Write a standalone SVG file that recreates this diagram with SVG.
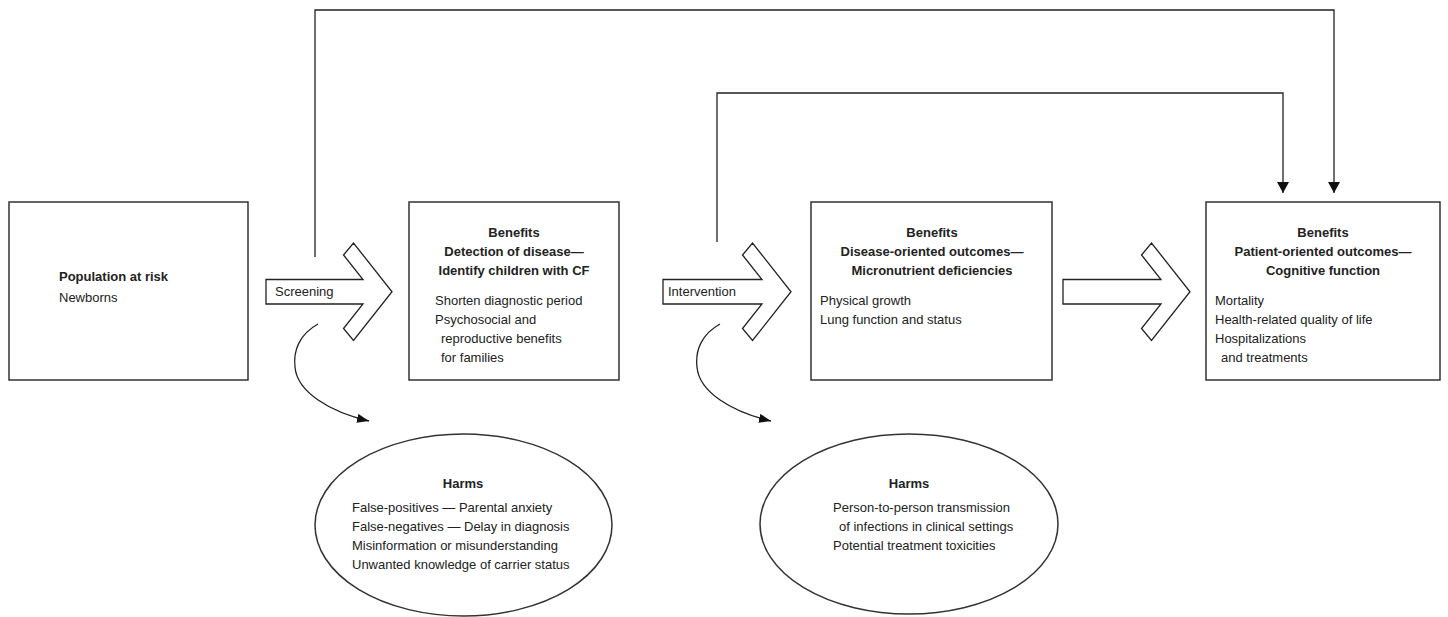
<svg xmlns="http://www.w3.org/2000/svg" width="1448" height="617" viewBox="0 0 1448 617">
<style>
.box{fill:#fff;stroke:#333;stroke-width:1.5}
.arr{fill:#fff;stroke:#222;stroke-width:1.3;stroke-linejoin:miter}
.t{font-family:"Liberation Sans",Arial,sans-serif;font-size:13px;fill:#222}
.b{font-weight:bold}
.c{text-anchor:middle}
.conn{fill:none;stroke:#222;stroke-width:1.3}
</style>
<defs>
<marker id="ah" viewBox="0 0 11 12" refX="11" refY="6" markerWidth="11" markerHeight="12" markerUnits="userSpaceOnUse" orient="auto">
<path d="M0,0 L11,6 L0,12 z" fill="#111"/>
</marker>
<marker id="ah2" viewBox="0 0 12 9" refX="12" refY="4.5" markerWidth="12" markerHeight="9" markerUnits="userSpaceOnUse" orient="auto">
<path d="M0,0 L12,4.5 L0,9 z" fill="#111"/>
</marker>
</defs>
<rect width="1448" height="617" fill="#fff"/>

<g id="connectors">
<path class="conn" d="M315,257 V10 H1334 V193" marker-end="url(#ah)"/>
<path class="conn" d="M717,242 V93 H1283 V193" marker-end="url(#ah)"/>
<path class="conn" d="M318,324 C300,334 293,350 295,367 C297,392 330,412 369,421" marker-end="url(#ah2)"/>
<path class="conn" d="M720,324 C702,334 695,350 697,367 C699,392 732,412 771,421" marker-end="url(#ah2)"/>
</g>

<g id="arrow-screening">
<polygon class="arr" points="266,279.5 363,279.5 343.5,255 353.5,243 392,291.75 353.5,340.5 343.5,328.5 363,304 266,304"/>
<text class="t" x="275" y="296">Screening</text>
</g>
<g id="arrow-intervention">
<polygon class="arr" points="663,279.5 762,279.5 742.5,255 752.5,243 791,291.75 752.5,340.5 742.5,328.5 762,304 663,304"/>
<text class="t" x="668" y="296">Intervention</text>
</g>
<g id="arrow-outcomes">
<polygon class="arr" points="1063,279.5 1161,279.5 1141.5,255 1151.5,243 1190,291.75 1151.5,340.5 1141.5,328.5 1161,304 1063,304"/>
</g>

<g id="population">
<rect class="box" x="9" y="202" width="239" height="178"/>
<text class="t b" x="59" y="281">Population at risk</text>
<text class="t" x="59" y="302">Newborns</text>
</g>

<g id="detection">
<rect class="box" x="409" y="202" width="210" height="178"/>
<text class="t b c" x="514" y="237">Benefits</text>
<text class="t b c" x="514" y="256">Detection of disease—</text>
<text class="t b c" x="514" y="275">Identify children with CF</text>
<text class="t" x="435" y="305">Shorten diagnostic period</text>
<text class="t" x="435" y="324">Psychosocial and</text>
<text class="t" x="441" y="343">reproductive benefits</text>
<text class="t" x="441" y="362">for families</text>
</g>

<g id="disease-outcomes">
<rect class="box" x="811" y="202" width="241" height="178"/>
<text class="t b c" x="932" y="237">Benefits</text>
<text class="t b c" x="932" y="256">Disease-oriented outcomes—</text>
<text class="t b c" x="932" y="275">Micronutrient deficiencies</text>
<text class="t" x="820" y="305">Physical growth</text>
<text class="t" x="820" y="324">Lung function and status</text>
</g>

<g id="patient-outcomes">
<rect class="box" x="1206" y="202" width="234" height="178"/>
<text class="t b c" x="1323" y="237">Benefits</text>
<text class="t b c" x="1323" y="256">Patient-oriented outcomes—</text>
<text class="t b c" x="1323" y="275">Cognitive function</text>
<text class="t" x="1215" y="305">Mortality</text>
<text class="t" x="1215" y="324">Health-related quality of life</text>
<text class="t" x="1215" y="343">Hospitalizations</text>
<text class="t" x="1221" y="362">and treatments</text>
</g>

<g id="harms-screening">
<ellipse class="box" cx="463.5" cy="525" rx="148.5" ry="91"/>
<text class="t b c" x="463" y="488">Harms</text>
<text class="t" x="352" y="512">False-positives — Parental anxiety</text>
<text class="t" x="352" y="531">False-negatives — Delay in diagnosis</text>
<text class="t" x="352" y="550">Misinformation or misunderstanding</text>
<text class="t" x="352" y="569">Unwanted knowledge of carrier status</text>
</g>

<g id="harms-intervention">
<ellipse class="box" cx="909" cy="524" rx="149" ry="90"/>
<text class="t b c" x="909" y="488">Harms</text>
<text class="t" x="833" y="512">Person-to-person transmission</text>
<text class="t" x="839" y="531">of infections in clinical settings</text>
<text class="t" x="833" y="550">Potential treatment toxicities</text>
</g>
</svg>
